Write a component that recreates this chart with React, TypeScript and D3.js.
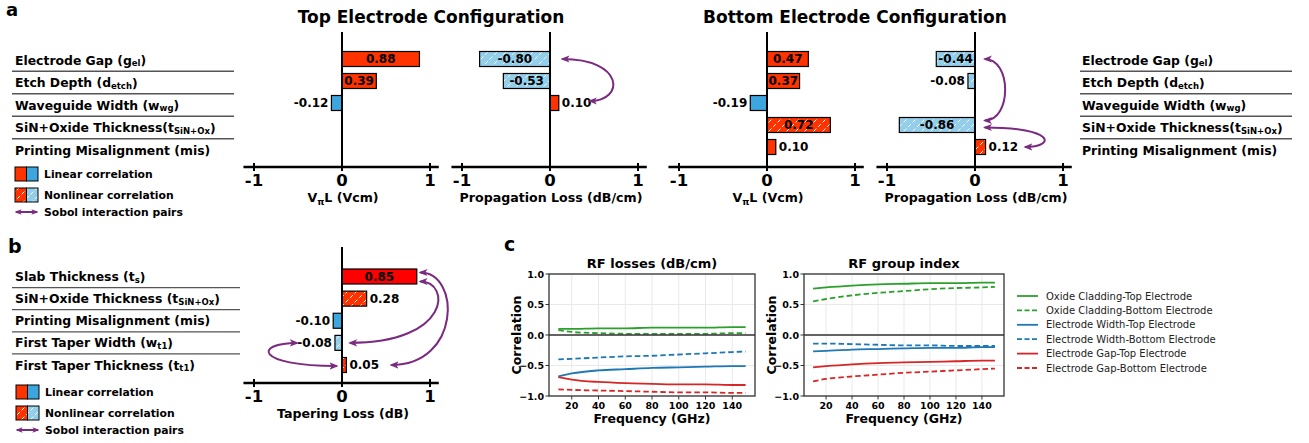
import React from 'react'
import * as d3 from 'd3'

// ---- panel a data ----
const paramsA = ['Electrode Gap (g', 'Etch Depth (d', 'Waveguide Width (w', 'SiN+Oxide Thickness(t', 'Printing Misalignment (mis)']
const subsA = ['el', 'etch', 'wg', 'SiN+Ox', '']

const topVpiL = [0.88, 0.39, -0.12, null, null]
const topVpiLNonlin = [false, false, false, false, false]
const topLoss = [-0.80, -0.53, 0.10, null, null]
const topLossNonlin = [true, true, false, false, false]
const botVpiL = [0.47, 0.37, -0.19, 0.72, 0.10]
const botVpiLNonlin = [false, false, false, true, false]
const botLoss = [-0.44, -0.08, null, -0.86, 0.12]
const botLossNonlin = [true, true, false, true, true]

// ---- panel b data ----
const paramsB = ['Slab Thickness (t', 'SiN+Oxide Thickness (t', 'Printing Misalignment (mis)', 'First Taper Width (w', 'First Taper Thickness (t']
const subsB = ['s', 'SiN+Ox', '', 't1', 't1']
const taperLoss = [0.85, 0.28, -0.10, -0.08, 0.05]
const taperNonlin = [false, true, false, true, true]

const tickVals = [-1, 0, 1]

// ---- panel c data ----
const freqs = [10, 20, 40, 60, 80, 100, 120, 140, 150]
const lossOxTop = [0.10, 0.10, 0.11, 0.11, 0.12, 0.12, 0.12, 0.13, 0.13]
const lossOxBot = [0.08, 0.05, 0.03, 0.02, 0.02, 0.02, 0.02, 0.03, 0.03]
const lossWTop = [-0.68, -0.63, -0.58, -0.56, -0.54, -0.53, -0.52, -0.51, -0.51]
const lossWBot = [-0.40, -0.39, -0.37, -0.35, -0.34, -0.32, -0.30, -0.28, -0.27]
const lossGTop = [-0.69, -0.73, -0.77, -0.79, -0.80, -0.81, -0.81, -0.82, -0.82]
const lossGBot = [-0.89, -0.90, -0.91, -0.92, -0.93, -0.94, -0.94, -0.95, -0.95]
const giOxTop = [0.76, 0.78, 0.81, 0.83, 0.84, 0.85, 0.85, 0.86, 0.86]
const giOxBot = [0.55, 0.59, 0.65, 0.69, 0.72, 0.75, 0.77, 0.78, 0.79]
const giWTop = [-0.27, -0.26, -0.24, -0.23, -0.22, -0.21, -0.21, -0.20, -0.20]
const giWBot = [-0.14, -0.14, -0.15, -0.16, -0.17, -0.17, -0.18, -0.18, -0.18]
const giGTop = [-0.53, -0.51, -0.48, -0.46, -0.45, -0.44, -0.43, -0.42, -0.42]
const giGBot = [-0.76, -0.72, -0.68, -0.65, -0.62, -0.60, -0.58, -0.56, -0.55]
const seriesNames = ['Oxide Cladding-Top Electrode', 'Oxide Cladding-Bottom Electrode', 'Electrode Width-Top Electrode', 'Electrode Width-Bottom Electrode', 'Electrode Gap-Top Electrode', 'Electrode Gap-Bottom Electrode']
const xTicksC = [20, 40, 60, 80, 100, 120, 140]
const yTicksC = [1, 0.5, 0, -0.5, -1]

const seriesColors = ['#2ca02c', '#2ca02c', '#1f77b4', '#1f77b4', '#d62728', '#d62728']
const FONT = 'DejaVu Sans'
const PURPLE = '#7a2a7f'
const RED = '#ff3300'
const BLUE = '#3ea6de'
const UNIT = 88

function RowLabel({ x, y, main, sub }) {
  return (
    <text x={x} y={y} dominantBaseline="central" fontSize={12.4} fontWeight="bold">
      {main}
      {sub ? <><tspan fontSize={8.5} dy={3}>{sub}</tspan><tspan dy={-3}>)</tspan></> : null}
    </text>
  )
}

function LabelBlock({ x, lineX0, lineX1, labels, subs, yScale }) {
  const ys = labels.map((d, i) => yScale(i))
  return (
    <g>
      {labels.map((d, i) => <RowLabel key={i} x={x} y={ys[i]} main={d} sub={subs[i]} />)}
      {ys.slice(1).map((y, i) => (
        <line key={i} x1={lineX0} x2={lineX1} y1={(y + ys[i]) / 2} y2={(y + ys[i]) / 2} stroke="#555" strokeWidth={1.3} />
      ))}
    </g>
  )
}

function BarChart({ zeroX, values, nonlin, rowY, axisY, topY, title, posFill, arrows }) {
  const x = d3.scaleLinear().domain([-1, 1]).range([zeroX - UNIT, zeroX + UNIT])
  const h = 15
  return (
    <g>
      {values.map((v, i) => {
        if (v === null) return null
        const x0 = Math.min(x(0), x(v))
        const w = Math.abs(x(v) - x(0))
        const fill = nonlin[i] ? (v > 0 ? 'url(#hatchRed)' : 'url(#hatchBlue)') : (v > 0 ? posFill : BLUE)
        const inside = w > 30
        const lx = inside ? (x(0) + x(v)) / 2 : v > 0 ? x(v) + 3 : x(v) - 3
        const anchor = inside ? 'middle' : v > 0 ? 'start' : 'end'
        return (
          <g key={i}>
            <rect x={x0} y={rowY(i) - h / 2} width={w} height={h} fill={fill} stroke="#000" strokeWidth={1.2} />
            <text x={lx} y={rowY(i)} dominantBaseline="central" textAnchor={anchor} fontSize={12} fontWeight="bold">
              {v.toFixed(2)}
            </text>
          </g>
        )
      })}
      <line x1={x(0)} x2={x(0)} y1={topY} y2={axisY} stroke="#000" strokeWidth={2} />
      <line x1={x(-1.12)} x2={x(1.1)} y1={axisY} y2={axisY} stroke="#000" strokeWidth={2.5} />
      {tickVals.map(t => (
        <g key={t}>
          <line x1={x(t)} x2={x(t)} y1={axisY - 4} y2={axisY + 4} stroke="#000" strokeWidth={2} />
          <text x={x(t)} y={axisY + 19} textAnchor="middle" fontSize={16.5} fontWeight="bold">{t === -1 ? '-1' : t}</text>
        </g>
      ))}
      <text x={x(0) + 1} y={axisY + 35} textAnchor="middle" fontSize={12.6} fontWeight="bold">{title}</text>
      {(arrows || []).map((a, i) => {
        const x0 = x(a.fromX), y0 = rowY(a.from) + (a.fromDy || 0)
        const x1 = x(a.toX), y1 = rowY(a.to) + (a.toDy || 0)
        const bx = x(a.bend)
        return (
          <path key={i} d={`M${x0},${y0} C${bx},${y0} ${bx},${y1} ${x1},${y1}`} fill="none" stroke={PURPLE} strokeWidth={2}
            markerStart="url(#arrowHead)" markerEnd="url(#arrowHead)" />
        )
      })}
    </g>
  )
}

function Legend({ x, y }) {
  return (
    <g fontSize={10.8} fontWeight="bold">
      <rect x={x} y={y - 7} width={11.5} height={14} fill={RED} stroke="#000" strokeWidth={1} />
      <rect x={x + 11.5} y={y - 7} width={11.5} height={14} fill={BLUE} stroke="#000" strokeWidth={1} />
      <text x={x + 29} y={y} dominantBaseline="central">Linear correlation</text>
      <rect x={x} y={y + 14} width={11.5} height={14} fill="url(#hatchRed)" stroke="#000" strokeWidth={1} />
      <rect x={x + 11.5} y={y + 14} width={11.5} height={14} fill="url(#hatchBlue)" stroke="#000" strokeWidth={1} />
      <text x={x + 29} y={y + 21} dominantBaseline="central">Nonlinear correlation</text>
      <line x1={x + 1} x2={x + 22} y1={y + 38} y2={y + 38} stroke={PURPLE} strokeWidth={2}
        markerStart="url(#arrowSmall)" markerEnd="url(#arrowSmall)" />
      <text x={x + 29} y={y + 38} dominantBaseline="central">Sobol interaction pairs</text>
    </g>
  )
}

function LineChart({ left, right, title, data }) {
  const x = d3.scaleLinear().domain([3, 157]).range([left, right])
  const y = d3.scaleLinear().domain([-1, 1]).range([396, 274])
  const line = d3.line().x((d, i) => x(freqs[i])).y(d => y(d)).curve(d3.curveMonotoneX)
  return (
    <g>
      {xTicksC.map(t => <line key={t} x1={x(t)} x2={x(t)} y1={274} y2={396} stroke="#e3e3e3" strokeWidth={0.8} />)}
      {yTicksC.map(t => <line key={t} x1={left} x2={right} y1={y(t)} y2={y(t)} stroke="#e3e3e3" strokeWidth={0.8} />)}
      {data.map((s, i) => (
        <path key={i} d={line(s)} fill="none" stroke={seriesColors[i]} strokeWidth={1.8}
          strokeDasharray={i % 2 === 1 ? '5.5,3' : null} />
      ))}
      <line x1={left} x2={right} y1={y(0)} y2={y(0)} stroke="#333" strokeWidth={1.3} />
      <rect x={left} y={274} width={right - left} height={122} fill="none" stroke="#333" strokeWidth={1.3} />
      {xTicksC.map(t => (
        <g key={t}>
          <line x1={x(t)} x2={x(t)} y1={396} y2={399.5} stroke="#333" />
          <text x={x(t)} y={409} textAnchor="middle" fontSize={9.5} fontWeight="bold">{t}</text>
        </g>
      ))}
      {yTicksC.map(t => (
        <g key={t}>
          <line x1={left - 3.5} x2={left} y1={y(t)} y2={y(t)} stroke="#333" />
          <text x={left - 5} y={y(t)} dominantBaseline="central" textAnchor="end" fontSize={9.5} fontWeight="bold">
            {t < 0 ? '\u2212' + Math.abs(t).toFixed(1) : t.toFixed(1)}
          </text>
        </g>
      ))}
      <text x={(left + right) / 2} y={268} textAnchor="middle" fontSize={13} fontWeight="bold">{title}</text>
      <text x={(left + right) / 2} y={423} textAnchor="middle" fontSize={12.5} fontWeight="bold">Frequency (GHz)</text>
      <text transform={`translate(${left - 33},335) rotate(-90)`} textAnchor="middle" dominantBaseline="central" fontSize={12.5} fontWeight="bold">Correlation</text>
    </g>
  )
}

export default function App() {
  const rowA = d3.scalePoint().domain(d3.range(5)).range([59, 147])
  const labelA = d3.scalePoint().domain(d3.range(5)).range([60, 150])
  const rowB = d3.scalePoint().domain(d3.range(5)).range([276.5, 365])

  const topLossArrows = [{ from: 0, fromX: 0.14, to: 2, toX: 0.45, toDy: -2, bend: 0.85 }]
  const botLossArrows = [
    { from: 0, fromX: 0.11, to: 3, toX: 0.11, toDy: -4.5, bend: 0.42 },
    { from: 3, fromX: 0.11, fromDy: 2.5, to: 4, toX: 0.57, bend: 0.92 },
  ]
  const taperArrows = [
    { from: 0, fromX: 0.89, fromDy: -4, to: 4, toX: 0.56, bend: 1.35 },
    { from: 0, fromX: 0.89, fromDy: 5, to: 3, toX: 0.09, bend: 1.24 },
    { from: 3, fromX: -0.51, to: 4, toX: -0.06, toDy: 1, bend: -1.0 },
  ]

  return (
    <svg width={1309} height={443} style={{ position: 'absolute', left: 0, top: 0, background: '#fff' }}
      fontFamily={FONT} fill="#000">
      <defs>
        <pattern id="hatchBlue" width={9} height={9} patternUnits="userSpaceOnUse">
          <rect width={9} height={9} fill="#93cfeb" />
          <path d="M-1,10 L10,-1" stroke="#fff" strokeWidth={1} strokeDasharray="4,2.5" />
          <path d="M-1,1 L1,-1 M8,10 L10,8" stroke="#fff" strokeWidth={1} />
        </pattern>
        <pattern id="hatchRed" width={9} height={9} patternUnits="userSpaceOnUse">
          <rect width={9} height={9} fill={RED} />
          <path d="M-1,10 L10,-1" stroke="#fff" strokeWidth={1} strokeDasharray="4,2.5" />
          <path d="M-1,1 L1,-1 M8,10 L10,8" stroke="#fff" strokeWidth={1} />
        </pattern>
        <marker id="arrowHead" viewBox="0 0 10 10" refX={8} refY={5} markerWidth={9} markerHeight={9}
          markerUnits="userSpaceOnUse" orient="auto-start-reverse">
          <path d="M0,1 L10,5 L0,9 L2.5,5 z" fill={PURPLE} />
        </marker>
        <marker id="arrowSmall" viewBox="0 0 10 10" refX={8} refY={5} markerWidth={7} markerHeight={7}
          markerUnits="userSpaceOnUse" orient="auto-start-reverse">
          <path d="M0,1 L10,5 L0,9 L2.5,5 z" fill={PURPLE} />
        </marker>
      </defs>

      {/* panel a */}
      <text x={6} y={16} fontSize={18} fontWeight="bold">a</text>
      <text x={431} y={23} textAnchor="middle" fontSize={17} fontWeight="bold">Top Electrode Configuration</text>
      <text x={855} y={23} textAnchor="middle" fontSize={17} fontWeight="bold">Bottom Electrode Configuration</text>
      <LabelBlock x={15} lineX0={12} lineX1={234} labels={paramsA} subs={subsA} yScale={labelA} />
      <LabelBlock x={1082} lineX0={1080} lineX1={1292} labels={paramsA} subs={subsA} yScale={labelA} />
      <BarChart zeroX={342} values={topVpiL} nonlin={topVpiLNonlin} rowY={rowA} axisY={167} topY={32} posFill={RED}
        title={<>V<tspan fontSize={9} dy={3}>π</tspan><tspan dy={-3}>L (Vcm)</tspan></>} />
      <BarChart zeroX={550} values={topLoss} nonlin={topLossNonlin} rowY={rowA} axisY={167} topY={32} posFill={RED}
        title="Propagation Loss (dB/cm)" arrows={topLossArrows} />
      <BarChart zeroX={767} values={botVpiL} nonlin={botVpiLNonlin} rowY={rowA} axisY={167} topY={32} posFill={RED}
        title={<>V<tspan fontSize={9} dy={3}>π</tspan><tspan dy={-3}>L (Vcm)</tspan></>} />
      <BarChart zeroX={975} values={botLoss} nonlin={botLossNonlin} rowY={rowA} axisY={167} topY={32} posFill={RED}
        title="Propagation Loss (dB/cm)" arrows={botLossArrows} />
      <Legend x={15} y={174} />

      {/* panel b */}
      <text x={8} y={253} fontSize={19} fontWeight="bold">b</text>
      <LabelBlock x={15} lineX0={12} lineX1={240} labels={paramsB} subs={subsB} yScale={rowB} />
      <BarChart zeroX={342} values={taperLoss} nonlin={taperNonlin} rowY={rowB} axisY={383} topY={247} posFill="#ff0000"
        title="Tapering Loss (dB)" arrows={taperArrows} />
      <Legend x={16} y={392} />

      {/* panel c */}
      <text x={504} y={251} fontSize={19} fontWeight="bold">c</text>
      <LineChart left={549} right={755} title="RF losses (dB/cm)" data={[lossOxTop, lossOxBot, lossWTop, lossWBot, lossGTop, lossGBot]} />
      <LineChart left={804} right={1004} title="RF group index" data={[giOxTop, giOxBot, giWTop, giWBot, giGTop, giGBot]} />
      <g fontSize={10}>
        {seriesNames.map((n, i) => {
          const yy = 296 + i * 14.4
          return (
            <g key={n}>
              <line x1={1017} x2={1038} y1={yy} y2={yy} stroke={seriesColors[i]} strokeWidth={1.8}
                strokeDasharray={i % 2 === 1 ? '5,2.5' : null} />
              <text x={1046} y={yy} dominantBaseline="central" fill="#222">{n}</text>
            </g>
          )
        })}
      </g>
    </svg>
  )
}
